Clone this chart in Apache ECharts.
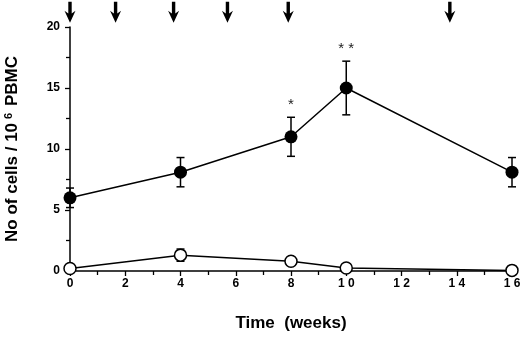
<!DOCTYPE html>
<html>
<head>
<meta charset="utf-8">
<script src="https://cdn.jsdelivr.net/npm/echarts@6/dist/echarts.min.js"></script>
<style>
  html, body { margin: 0; padding: 0; background: #fff; }
  #chart { width: 520px; height: 337px; }
</style>
</head>
<body>
<div id="chart"></div>
<script>
// weeks of sampling
const weeks = [0, 4, 8, 10, 16];
// filled circles
const filledMean = [6.0, 8.1, 11.0, 15.0, 8.1];
const filledErr = [0.8, 1.2, 1.6, 2.2, 1.2];
const filledSig = ['', '', '*', '**', ''];
// open circles
const openMean = [0.2, 1.3, 0.8, 0.25, 0.05];
const openErr = [0, 0.5, 0, 0, 0];
// arrows (injection times)
const arrowWeeks = [0, 1.65, 3.75, 5.7, 7.9, 13.75];
const arrowLevel = 21.2;

const font = 'Liberation Sans, Arial, Helvetica, sans-serif';

function errorSeries(mean, err, sig) {
  return {
    type: 'custom',
    data: weeks.map((w, i) => [w, mean[i], err[i]]),
    z: 1,
    renderItem(params, api) {
      const x = api.value(0), m = api.value(1), e = api.value(2);
      const s = sig ? sig[params.dataIndex] : '';
      const top = api.coord([x, m + e]);
      const bot = api.coord([x, m - e]);
      const cw = 4;
      const st = { stroke: '#000', lineWidth: 1.5 };
      const children = [];
      if (e > 0) {
        children.push(
          { type: 'line', shape: { x1: top[0], y1: top[1], x2: bot[0], y2: bot[1] }, style: st },
          { type: 'line', shape: { x1: top[0] - cw, y1: top[1], x2: top[0] + cw, y2: top[1] }, style: st },
          { type: 'line', shape: { x1: bot[0] - cw, y1: bot[1], x2: bot[0] + cw, y2: bot[1] }, style: st }
        );
      }
      if (s) {
        children.push({
          type: 'text',
          style: {
            text: s.split('').join(' '), x: top[0], y: top[1] - 5,
            align: 'center', verticalAlign: 'bottom',
            font: '15px ' + font, fill: '#222'
          }
        });
      }
      return { type: 'group', children };
    }
  };
}

const chart = echarts.init(document.getElementById('chart'), null, { renderer: 'canvas' });
chart.setOption({
  animation: false,
  backgroundColor: '#fff',
  grid: { left: 70, right: 8, top: 27, bottom: 66, containLabel: false, outerBoundsMode: 'none' },
  xAxis: {
    type: 'value', min: 0, max: 16, interval: 2,
    name: 'Time  (weeks)', nameLocation: 'middle', nameGap: 44,
    nameTextStyle: { fontFamily: font, fontWeight: 'bold', fontSize: 17, color: '#000' },
    axisLine: { lineStyle: { color: '#000', width: 1.5 } },
    axisTick: { inside: false, length: 5, lineStyle: { color: '#000', width: 1.3 } },
    minorTick: { show: true, splitNumber: 2, length: 4, lineStyle: { color: '#000', width: 1.3 } },
    axisLabel: {
      fontFamily: font, fontWeight: 'bold', fontSize: 12, color: '#000', margin: 7,
      formatter: v => String(v).split('').join(' ')
    },
    splitLine: { show: false }
  },
  yAxis: {
    type: 'value', min: 0, max: 20, interval: 5,
    name: '{t|No of cells / 10}{s|6}{t| PBMC}', nameLocation: 'middle', nameGap: 48,
    nameTextStyle: {
      rich: {
        t: { fontFamily: font, fontWeight: 'bold', fontSize: 17, color: '#000' },
        s: { fontFamily: font, fontWeight: 'bold', fontSize: 11, color: '#000', verticalAlign: 'top', padding: [0, 2, 8, 4] }
      }
    },
    axisLine: { show: true, lineStyle: { color: '#000', width: 1.5 } },
    axisTick: { show: true, length: 5, lineStyle: { color: '#000', width: 1.3 } },
    minorTick: { show: true, splitNumber: 2, length: 4, lineStyle: { color: '#000', width: 1.3 } },
    axisLabel: { fontFamily: font, fontWeight: 'bold', fontSize: 12, color: '#000', margin: 10 },
    splitLine: { show: false }
  },
  series: [
    errorSeries(filledMean, filledErr, filledSig),
    errorSeries(openMean, openErr, null),
    {
      type: 'line',
      data: weeks.map((w, i) => [w, filledMean[i]]),
      symbol: 'circle', symbolSize: 13,
      itemStyle: { color: '#000' },
      lineStyle: { color: '#000', width: 1.5 },
      z: 3
    },
    {
      type: 'line',
      data: weeks.map((w, i) => [w, openMean[i]]),
      symbol: 'circle', symbolSize: 12,
      itemStyle: { color: '#fff', borderColor: '#000', borderWidth: 1.5 },
      lineStyle: { color: '#000', width: 1.5 },
      clip: false,
      z: 3
    },
    {
      type: 'scatter',
      data: arrowWeeks.map(w => [w, arrowLevel]),
      symbol: 'path://M3.8,0 L7.2,0 L7.2,11 L11,8.5 L5.5,20 L0,8.5 L3.8,11 Z',
      symbolSize: [11, 21],
      itemStyle: { color: '#000', opacity: 1 },
      clip: false,
      z: 4
    }
  ]
});
</script>
</body>
</html>
